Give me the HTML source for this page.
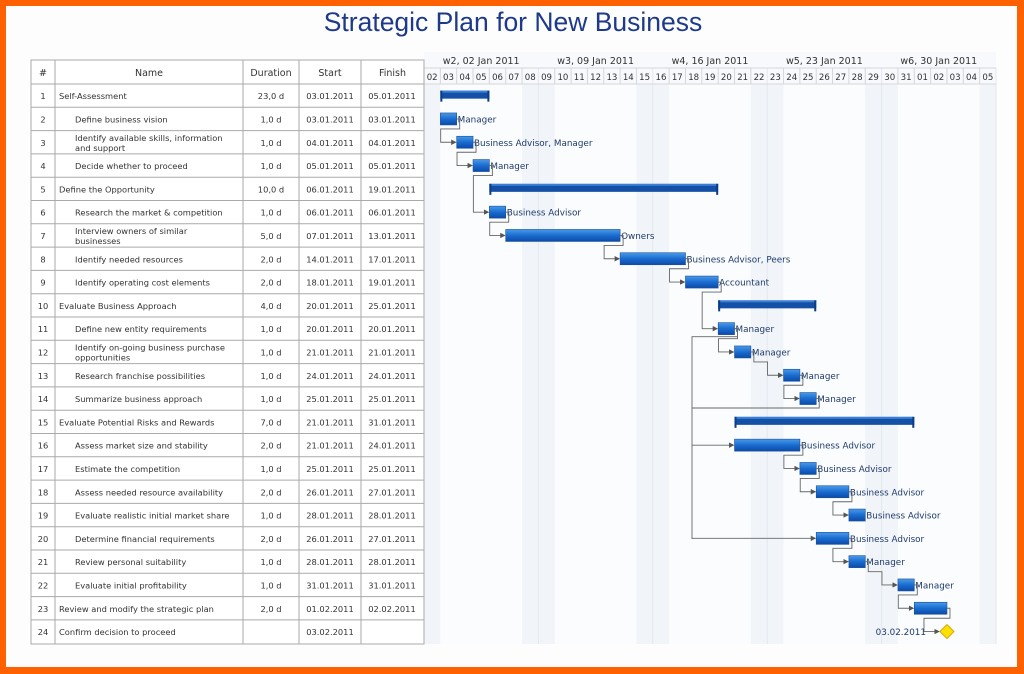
<!DOCTYPE html>
<html><head><meta charset="utf-8"><style>
body{margin:0;width:1024px;height:674px;overflow:hidden;background:#ff6000;font-family:"Liberation Sans","DejaVu Sans",sans-serif}
#pg{position:absolute;left:6px;top:6px;width:1011px;height:661px;background:#fdfdfe}
svg{position:absolute;left:0;top:0}
text{font-family:"DejaVu Sans",sans-serif}
text.t{font-family:"Liberation Sans",sans-serif}
</style></head><body><div id="pg"></div>
<svg id="s" width="1024" height="674"></svg>
<script>
var t=[["Self-Assessment","23,0 d","03.01.2011","05.01.2011",0],["Define business vision","1,0 d","03.01.2011","03.01.2011",1],["Identify available skills, information|and support","1,0 d","04.01.2011","04.01.2011",1],["Decide whether to proceed","1,0 d","05.01.2011","05.01.2011",1],["Define the Opportunity","10,0 d","06.01.2011","19.01.2011",0],["Research the market & competition","1,0 d","06.01.2011","06.01.2011",1],["Interview owners of similar|businesses","5,0 d","07.01.2011","13.01.2011",1],["Identify needed resources","2,0 d","14.01.2011","17.01.2011",1],["Identify operating cost elements","2,0 d","18.01.2011","19.01.2011",1],["Evaluate Business Approach","4,0 d","20.01.2011","25.01.2011",0],["Define new entity requirements","1,0 d","20.01.2011","20.01.2011",1],["Identify on-going business purchase|opportunities","1,0 d","21.01.2011","21.01.2011",1],["Research franchise possibilities","1,0 d","24.01.2011","24.01.2011",1],["Summarize business approach","1,0 d","25.01.2011","25.01.2011",1],["Evaluate Potential Risks and Rewards","7,0 d","21.01.2011","31.01.2011",0],["Assess market size and stability","2,0 d","21.01.2011","24.01.2011",1],["Estimate the competition","1,0 d","25.01.2011","25.01.2011",1],["Assess needed resource availability","2,0 d","26.01.2011","27.01.2011",1],["Evaluate realistic initial market share","1,0 d","28.01.2011","28.01.2011",1],["Determine financial requirements","2,0 d","26.01.2011","27.01.2011",1],["Review personal suitability","1,0 d","28.01.2011","28.01.2011",1],["Evaluate initial profitability","1,0 d","31.01.2011","31.01.2011",1],["Review and modify the strategic plan","2,0 d","01.02.2011","02.02.2011",0],["Confirm decision to proceed","","03.02.2011","",0]];
var lab=["","Manager","Business Advisor, Manager","Manager","","Business Advisor","Owners","Business Advisor, Peers","Accountant","","Manager","Manager","Manager","Manager","","Business Advisor","Business Advisor","Business Advisor","Business Advisor","Business Advisor","Manager","Manager","",""];
var D=16.343,X0=424,P=23.3,Y0=84;
function idx(s){var d=+s.slice(0,2),m=+s.slice(3,5);return m==1?d-2:29+d;}
var h='<text class="t" x="513" y="31" font-size="26.5" fill="#1d3a8a" text-anchor="middle">Strategic Plan for New Business</text>';
h+='<rect x="424" y="52" width="572" height="592" fill="#f7f9fc"/>';
for(var i=0;i<35;i++){var x=X0+i*D;var wk=(i%7==0||i%7==6);h+='<rect x="'+x+'" y="84" width="'+D+'" height="560" fill="'+(wk?'#f1f5f9':'#fafcfd')+'"/>';}
for(i=0;i<=35;i++){var x=X0+i*D;h+='<line x1="'+x+'" y1="68" x2="'+x+'" y2="'+(i%7==0?644:84)+'" stroke="'+(i%7==0?'#e4e9ef':'#d6d6d6')+'"/>';
if(i<35){var dd=i<30?i+2:i-29;h+='<text x="'+(x+D/2)+'" y="80" font-size="8.6" fill="#333" text-anchor="middle">'+(dd<10?'0':'')+dd+'</text>';}}
var wl=["w2, 02 Jan 2011","w3, 09 Jan 2011","w4, 16 Jan 2011","w5, 23 Jan 2011","w6, 30 Jan 2011"];
for(i=0;i<5;i++){h+='<text x="'+(X0+(i*7+3.5)*D)+'" y="64" font-size="9.5" fill="#333" text-anchor="middle">'+wl[i]+'</text>';}
h+='<line x1="424" y1="68" x2="996" y2="68" stroke="#d6d6d6"/><line x1="424" y1="84" x2="996" y2="84" stroke="#d6d6d6"/>';
h+='<rect x="31" y="60" width="393" height="584" fill="#fff" stroke="#aaa"/>';
var cx=[31,55,243,299,361,424];
for(i=1;i<5;i++)h+='<line x1="'+cx[i]+'" y1="60" x2="'+cx[i]+'" y2="644" stroke="#aaa"/>';
var hd=["#","Name","Duration","Start","Finish"];
for(i=0;i<5;i++)h+='<text x="'+(cx[i]+cx[i+1])/2+'" y="76" font-size="9.5" fill="#333" text-anchor="middle">'+hd[i]+'</text>';
for(var r=0;r<24;r++){var y=Y0+r*P,c=y+P/2+3.5;h+='<line x1="31" y1="'+y+'" x2="424" y2="'+y+'" stroke="#aaa"/>';
var a=t[r];h+='<text x="43" y="'+c+'" font-size="8.3" fill="#333" text-anchor="middle">'+(r+1)+'</text>';
var nx=a[4]?75:59,ps=a[0].split('|');
if(ps.length>1){h+='<text x="'+nx+'" y="'+(c-5)+'" font-size="8.3" fill="#333">'+ps[0].replace('&','&amp;')+'</text><text x="'+nx+'" y="'+(c+5)+'" font-size="8.3" fill="#333">'+ps[1]+'</text>';}
else h+='<text x="'+nx+'" y="'+c+'" font-size="8.3" fill="#333">'+a[0].replace('&','&amp;')+'</text>';
h+='<text x="271" y="'+c+'" font-size="8.3" fill="#333" text-anchor="middle">'+a[1]+'</text><text x="330" y="'+c+'" font-size="8.3" fill="#333" text-anchor="middle">'+a[2]+'</text><text x="392" y="'+c+'" font-size="8.3" fill="#333" text-anchor="middle">'+a[3]+'</text>';}
h+='<defs><linearGradient id="g" x1="0" y1="0" x2="0" y2="1"><stop offset="0" stop-color="#4a9ae8"/><stop offset="0.5" stop-color="#1a6cd0"/><stop offset="1" stop-color="#0c4aa8"/></linearGradient><marker id="m" markerWidth="6" markerHeight="6" refX="5" refY="3" orient="auto"><path d="M0,0L6,3L0,6z" fill="#555"/></marker></defs>';
var B=[];
for(r=0;r<23;r++){var a=t[r],s=idx(a[2]),e=idx(a[3]);var x1=X0+s*D,x2=X0+(e+1)*D,cy=Y0+r*P+P/2;B[r]=[x1,x2,cy];
if(a[4]||r==22){h+='<rect x="'+x1+'" y="'+(cy-6)+'" width="'+(x2-x1)+'" height="12" fill="url(#g)" stroke="#1b4f9a" stroke-width="0.6"/>';}
else{h+='<rect x="'+x1+'" y="'+(cy-5)+'" width="'+(x2-x1)+'" height="8" fill="#1350a6"/><rect x="'+x1+'" y="'+(cy-5)+'" width="'+(x2-x1)+'" height="2" fill="#3a80d8"/><rect x="'+x1+'" y="'+(cy-5)+'" width="2" height="11" fill="#0d3d85"/><rect x="'+(x2-2)+'" y="'+(cy-5)+'" width="2" height="11" fill="#0d3d85"/>';}
if(lab[r])h+='<text x="'+(x2+1)+'" y="'+(cy+3.5)+'" font-size="8.8" fill="#1e3a6a">'+lab[r]+'</text>';}
var mx=X0+32*D,my=Y0+23*P+P/2;
h+='<path d="M'+mx+','+(my-7)+'L'+(mx+7)+','+my+'L'+mx+','+(my+7)+'L'+(mx-7)+','+my+'z" fill="#ffe000" stroke="#d4a800"/>';
h+='<text x="926" y="'+(my+3.5)+'" font-size="8.8" fill="#1e3a6a" text-anchor="end">03.02.2011</text>';
B[23]=[mx-7,mx,my];
function con(p,q){var a=B[p],b=B[q];var xs=a[1]+3,yb=a[2]+10,xl=b[0]-16;return '<path d="M'+a[1]+','+a[2]+'H'+xs+'V'+yb+'H'+xl+'V'+b[2]+'H'+(b[0]-1)+'" fill="none" stroke="#666" stroke-width="0.9" marker-end="url(#m)"/>';}
var L=[[1,2],[2,3],[3,5],[5,6],[6,7],[7,8],[8,10],[10,11],[11,12],[12,13],[15,16],[16,17],[17,18],[19,20],[20,21],[21,22],[22,23]];
L.forEach(function(l){h+=con(l[0],l[1]);});
var b=B[10];h+='<path d="M'+b[1]+','+b[2]+'H'+(b[1]+3)+'V'+(b[2]+8)+'H692V539" fill="none" stroke="#666" stroke-width="0.9"/>';
var c14=B[13];h+='<path d="M'+c14[1]+','+c14[2]+'H'+(c14[1]+3)+'V408H692" fill="none" stroke="#666" stroke-width="0.9"/>';
h+='<path d="M692,'+B[15][2]+'H'+(B[15][0]-1)+'" fill="none" stroke="#666" stroke-width="0.9" marker-end="url(#m)"/>';
h+='<path d="M692,'+B[19][2]+'H'+(B[19][0]-1)+'" fill="none" stroke="#666" stroke-width="0.9" marker-end="url(#m)"/>';
document.getElementById('s').innerHTML=h;
</script></body></html>
